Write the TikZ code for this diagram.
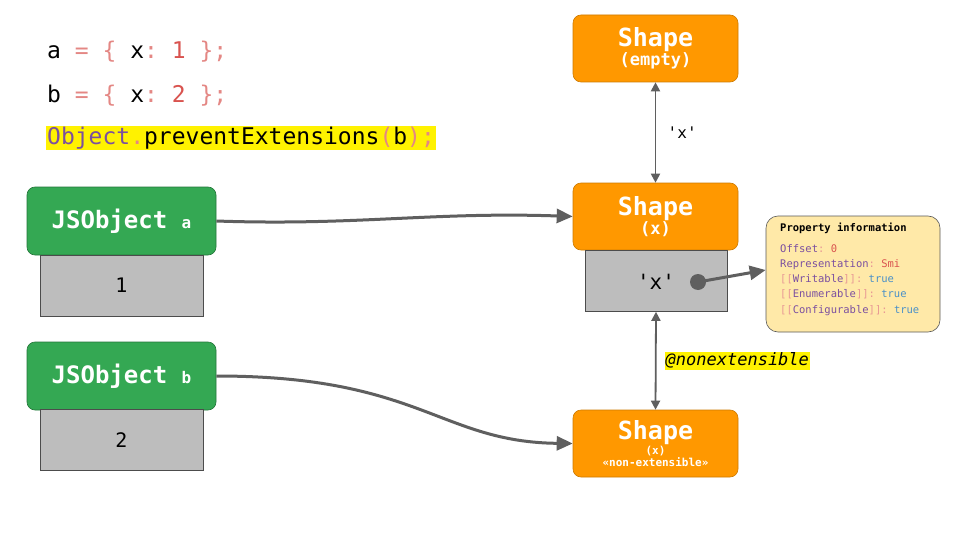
\documentclass[tikz,border=0pt]{standalone}
\usepackage{fontspec}
\setmonofont{DejaVu Sans Mono}
\usetikzlibrary{arrows.meta}
\definecolor{org}{HTML}{FF9800}
\definecolor{grn}{HTML}{34A853}
\definecolor{gry}{HTML}{BDBDBD}
\definecolor{red}{HTML}{D9534F}
\definecolor{pur}{HTML}{7B4FA0}
\definecolor{blu}{HTML}{4A90C8}
\definecolor{pale}{HTML}{FFE9A8}
\definecolor{arr}{HTML}{5F5F5F}
\tikzset{
 shp/.style={draw=org!80!black,fill=org,rounded corners=8pt,minimum width=165pt,minimum height=67pt,text=white,font=\ttfamily\bfseries,align=center,line width=0.6pt,inner sep=0pt},
 jso/.style={draw=grn!70!black,fill=grn,rounded corners=8pt,minimum width=189pt,minimum height=68pt,text=white,font=\ttfamily\bfseries\fontsize{24}{28}\selectfont,line width=0.6pt},
 val/.style={draw=gray!60!black,fill=gry,minimum height=61pt,font=\ttfamily\fontsize{20}{24}\selectfont,line width=0.6pt},
 con/.style={draw=arr,line width=3pt,-{Triangle[length=16pt,width=14pt]}},
 dbl/.style={draw=arr,line width=1.8pt,{Triangle[length=9pt,width=9pt]}-{Triangle[length=9pt,width=9pt]}},
 code/.style={anchor=west,font=\ttfamily\fontsize{23}{26}\selectfont,inner sep=1pt}
}
\begin{document}
\begin{tikzpicture}[x=1pt,y=-1pt]
\useasboundingbox (0,0) rectangle (960,540);
\fill[white] (0,0) rectangle (960,540);
\node[code] (c1) at (46,52) {a \textcolor{red!70}{= \{} x\textcolor{red!70}{:} \textcolor{red}{1} \textcolor{red!70}{\};}};
\node[code] (c2) at (46,96) {b \textcolor{red!70}{= \{} x\textcolor{red!70}{:} \textcolor{red}{2} \textcolor{red!70}{\};}};
\node[code,fill=yellow] (c3) at (46,138) {\textcolor{pur}{Object}\textcolor{red!70}{.}preventExtensions\textcolor{red!70}{(}b\textcolor{red!70}{);}};
\node[shp] (s0) at (655.5,48.5) {{\fontsize{25}{28}\selectfont Shape}\\{\fontsize{17}{20}\selectfont (empty)}};
\node[shp] (s1) at (655.5,216.5) {{\fontsize{25}{28}\selectfont Shape}\\{\fontsize{17}{20}\selectfont (x)}};
\node[val,minimum width=142pt] (v1) at (656,281) {};
\node[font=\ttfamily\fontsize{21}{24}\selectfont] (vx) at (656,282) {'x'};
\node[shp] (s2) at (655.5,443.5) {{\fontsize{25}{27}\selectfont Shape}\\{\fontsize{11}{13}\selectfont (x)}\\{\fontsize{11}{13}\selectfont «non-extensible»}};
\node[jso] (ja) at (121.5,221) {JSObject {\fontsize{16}{18}\selectfont a}};
\node[val,minimum width=163pt] (va) at (121.5,285.5) {1};
\node[jso] (jb) at (121.5,376) {JSObject {\fontsize{16}{18}\selectfont b}};
\node[val,minimum width=163pt] (vb) at (121.5,440) {2};
\node[draw=gray!70!black,fill=pale,rounded corners=12pt,minimum width=174pt,minimum height=116pt,line width=0.6pt] (pi) at (853,274) {};
\node[anchor=north west,align=left,font=\ttfamily\fontsize{10.5}{15.3}\selectfont,inner sep=0pt] (pt) at (780,223) {\textbf{Property information}\\[5pt]
\textcolor{pur}{Offset}\textcolor{red!60}{:} \textcolor{red}{0}\\
\textcolor{pur}{Representation}\textcolor{red!60}{:} \textcolor{red}{Smi}\\
\textcolor{red!60}{[[}\textcolor{pur}{Writable}\textcolor{red!60}{]]:} \textcolor{blu}{true}\\
\textcolor{red!60}{[[}\textcolor{pur}{Enumerable}\textcolor{red!60}{]]:} \textcolor{blu}{true}\\
\textcolor{red!60}{[[}\textcolor{pur}{Configurable}\textcolor{red!60}{]]:} \textcolor{blu}{true}};
\coordinate (dot) at (698,282);
\fill[arr] (dot) circle (8pt);
\draw[con] (dot) -- (pi.west |- 0,270);
\draw[con] (ja.east) to[out=-2,in=178] (s1.west);
\draw[con] (jb.east) .. controls (420,376) and (440,442) .. (s2.west);
\draw[dbl] (s0.south) -- node[right=8pt,font=\ttfamily\fontsize{16}{18}\selectfont] (lx) {'x'} (s1.north);
\draw[dbl] (v1.south) -- node[right=8pt,fill=yellow,inner sep=1pt,font=\ttfamily\itshape\fontsize{17}{20}\selectfont] (ln) {@nonextensible} (s2.north);
\end{tikzpicture}
\end{document}
